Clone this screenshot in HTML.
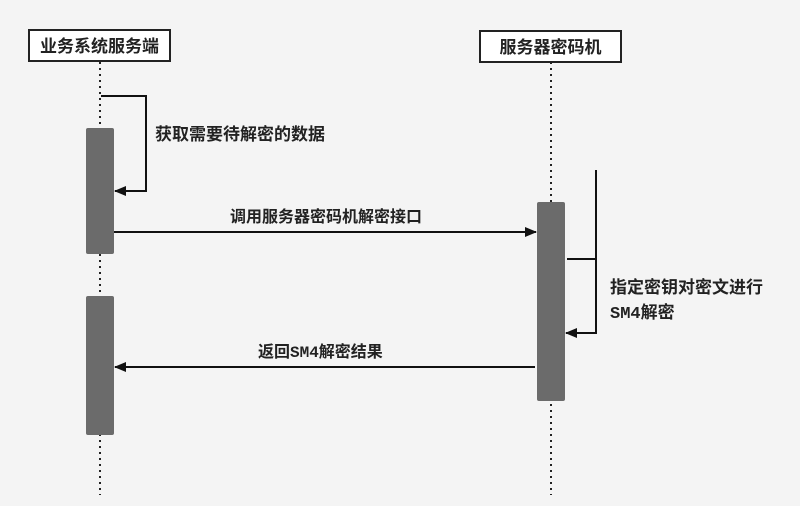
<!DOCTYPE html>
<html><head><meta charset="utf-8"><style>
html,body{margin:0;padding:0;background:#f4f4f4;}
svg text{font-family:"Liberation Mono","Noto Sans CJK SC",sans-serif;font-weight:bold;fill:#222;}
</style></head><body>
<svg width="800" height="501" viewBox="0 0 800 501" xmlns="http://www.w3.org/2000/svg">
<rect width="800" height="501" fill="#f4f4f4"/>
<defs><marker id="a" markerWidth="12" markerHeight="10" refX="11" refY="5" orient="auto" markerUnits="userSpaceOnUse"><path d="M0,0 L12,5 L0,10 z" fill="#111"/></marker></defs>
<line x1="100" y1="62" x2="100" y2="495" stroke="#222" stroke-width="2" stroke-dasharray="2,4"/>
<line x1="551" y1="62" x2="551" y2="495" stroke="#222" stroke-width="2" stroke-dasharray="2,4"/>
<rect x="29" y="30" width="141" height="31" fill="#fff" stroke="#222" stroke-width="2"/>
<text x="99.5" y="52" font-size="17" text-anchor="middle">业务系统服务端</text>
<rect x="480" y="31" width="141" height="31" fill="#fff" stroke="#222" stroke-width="2"/>
<text x="550.5" y="53" font-size="17" text-anchor="middle">服务器密码机</text>
<rect x="86" y="128" width="28" height="126" rx="2" fill="#6b6b6b"/>
<rect x="86" y="296" width="28" height="139" rx="2" fill="#6b6b6b"/>
<rect x="537" y="202" width="28" height="199" rx="2" fill="#6b6b6b"/>
<polyline points="101,96 146,96 146,191 115,191" fill="none" stroke="#111" stroke-width="2" marker-end="url(#a)"/>
<text x="155" y="140" font-size="17">获取需要待解密的数据</text>
<line x1="114" y1="232" x2="536" y2="232" stroke="#111" stroke-width="2" marker-end="url(#a)"/>
<text x="326" y="222" font-size="16" text-anchor="middle">调用服务器密码机解密接口</text>
<polyline points="567,259 596,259" fill="none" stroke="#111" stroke-width="2"/>
<polyline points="596,170 596,333 566,333" fill="none" stroke="#111" stroke-width="2" marker-end="url(#a)"/>
<text x="610" y="293" font-size="17">指定密钥对密文进行</text>
<text x="610" y="318" font-size="17">SM4解密</text>
<line x1="535" y1="367" x2="115" y2="367" stroke="#111" stroke-width="2" marker-end="url(#a)"/>
<text x="258" y="357" font-size="16">返回SM4解密结果</text>
</svg>
</body></html>
